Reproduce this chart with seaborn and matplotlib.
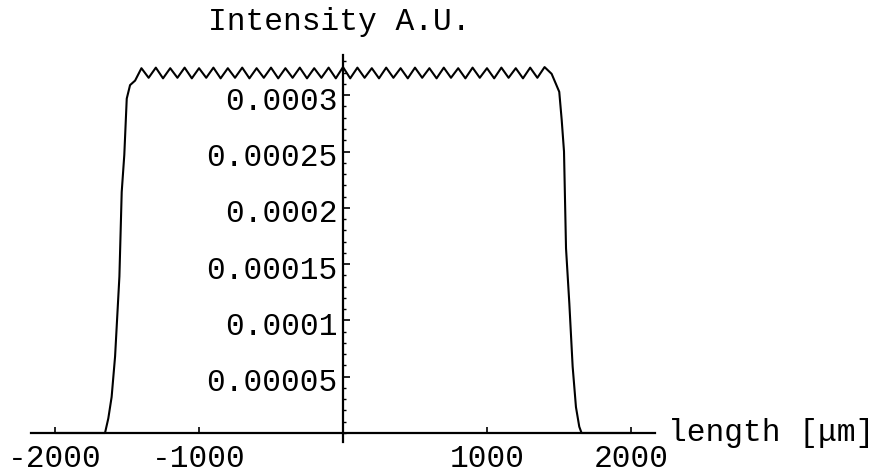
import matplotlib
matplotlib.use("Agg")
import matplotlib.pyplot as plt
from matplotlib.ticker import FixedLocator, MultipleLocator
from matplotlib.transforms import ScaledTranslation
import seaborn as sns
import pandas as pd

# ---- data ----
length_um = [
    -2000, -1653, -1630, -1607, -1583, -1553, -1537, -1519, -1502, -1479, -1444,
    -1400, -1350, -1300, -1250, -1200, -1150, -1100, -1050, -1000, -950,
    -900, -850, -800, -750, -700, -650, -600, -550, -500, -450,
    -400, -350, -300, -250, -200, -150, -100, -50, 0, 50,
    100, 150, 200, 250, 300, 350, 400, 450, 500, 550,
    600, 650, 700, 750, 800, 850, 900, 950, 1000, 1050,
    1100, 1150, 1200, 1250, 1300, 1350, 1400,
    1449, 1479, 1502, 1519, 1535, 1549, 1572, 1595, 1618, 1641, 1657, 2000,
]
intensity = [
    0.0, 0.0, 0.0000130, 0.0000320, 0.0000680, 0.0001390, 0.0002140, 0.0002470, 0.0002970, 0.0003090, 0.0003130,
    0.0003240, 0.0003155, 0.0003245, 0.0003150, 0.0003240, 0.0003155, 0.0003245, 0.0003150, 0.0003240, 0.0003155,
    0.0003245, 0.0003150, 0.0003240, 0.0003155, 0.0003245, 0.0003150, 0.0003240, 0.0003155, 0.0003245, 0.0003150,
    0.0003240, 0.0003155, 0.0003245, 0.0003150, 0.0003240, 0.0003155, 0.0003245, 0.0003150, 0.0003250, 0.0003150,
    0.0003245, 0.0003155, 0.0003240, 0.0003150, 0.0003245, 0.0003155, 0.0003240, 0.0003150, 0.0003245, 0.0003155,
    0.0003240, 0.0003150, 0.0003245, 0.0003155, 0.0003240, 0.0003150, 0.0003245, 0.0003155, 0.0003240, 0.0003150,
    0.0003245, 0.0003155, 0.0003240, 0.0003150, 0.0003245, 0.0003155, 0.0003250,
    0.0003190, 0.0003100, 0.0003030, 0.0002780, 0.0002500, 0.0001640, 0.0001150, 0.0000590, 0.0000230, 0.0000056, 0.0, 0.0,
]
x_ticks = [-2000, -1000, 1000, 2000]
x_tick_labels = ["-2000", "-1000", "1000", "2000"]
y_ticks = [0.00005, 0.0001, 0.00015, 0.0002, 0.00025, 0.0003]
y_tick_labels = ["0.00005", "0.0001", "0.00015", "0.0002", "0.00025", "0.0003"]
title_text = "Intensity A.U."
xlabel_text = "length [\u03bcm]"

df = pd.DataFrame({"length": length_um, "intensity": intensity})

sns.set_style("white")
plt.rcParams["font.family"] = ["Liberation Mono", "DejaVu Sans Mono", "DejaVu Sans"]
FS = 22.5

W, H = 874, 475
fig = plt.figure(figsize=(W / 100, H / 100), dpi=100)
ax = fig.add_axes([31 / W, (H - 442) / H, 624 / W, (442 - 54.7) / H])

sns.lineplot(data=df, x="length", y="intensity", sort=False, color="black",
             linewidth=1.5, ax=ax, estimator=None)

ax.set_xlim(-2167, 2167)
ax.set_ylim(-0.000008, 0.000336)

for s in ["top", "right"]:
    ax.spines[s].set_visible(False)
ax.spines["left"].set_position(("data", 0))
ax.spines["bottom"].set_position(("data", 0))
for s in ["left", "bottom"]:
    ax.spines[s].set_color("black")
    ax.spines[s].set_linewidth(1.6)
    ax.spines[s].set_zorder(3)

ax.xaxis.set_major_locator(FixedLocator(x_ticks))
ax.set_xticklabels(x_tick_labels)
ax.yaxis.set_major_locator(FixedLocator(y_ticks))
ax.set_yticklabels(y_tick_labels)
ax.yaxis.set_minor_locator(MultipleLocator(0.00001))

ax.tick_params(axis="x", which="major", direction="in", length=4.5, width=1.2,
               pad=8, labelsize=FS, colors="black", bottom=True)
ax.tick_params(axis="y", which="major", direction="in", length=5, width=1.2,
               pad=4, labelsize=FS, colors="black", left=True)
ax.tick_params(axis="y", which="minor", direction="in", length=2.5, width=1.0,
               colors="black", left=True)
ax.set_xlabel("")
ax.set_ylabel("")
ax.grid(False)

shift = ScaledTranslation(0, -3 / 100, fig.dpi_scale_trans)
for lab in ax.get_yticklabels():
    lab.set_transform(lab.get_transform() + shift)

fig.text(339 / W, 1 - 22 / H, title_text, ha="center", va="center", fontsize=FS, color="black")
fig.text(668 / W, 1 - 433 / H, xlabel_text, ha="left", va="center", fontsize=FS, color="black")

fig.savefig("out.png", dpi=100, facecolor="white")
